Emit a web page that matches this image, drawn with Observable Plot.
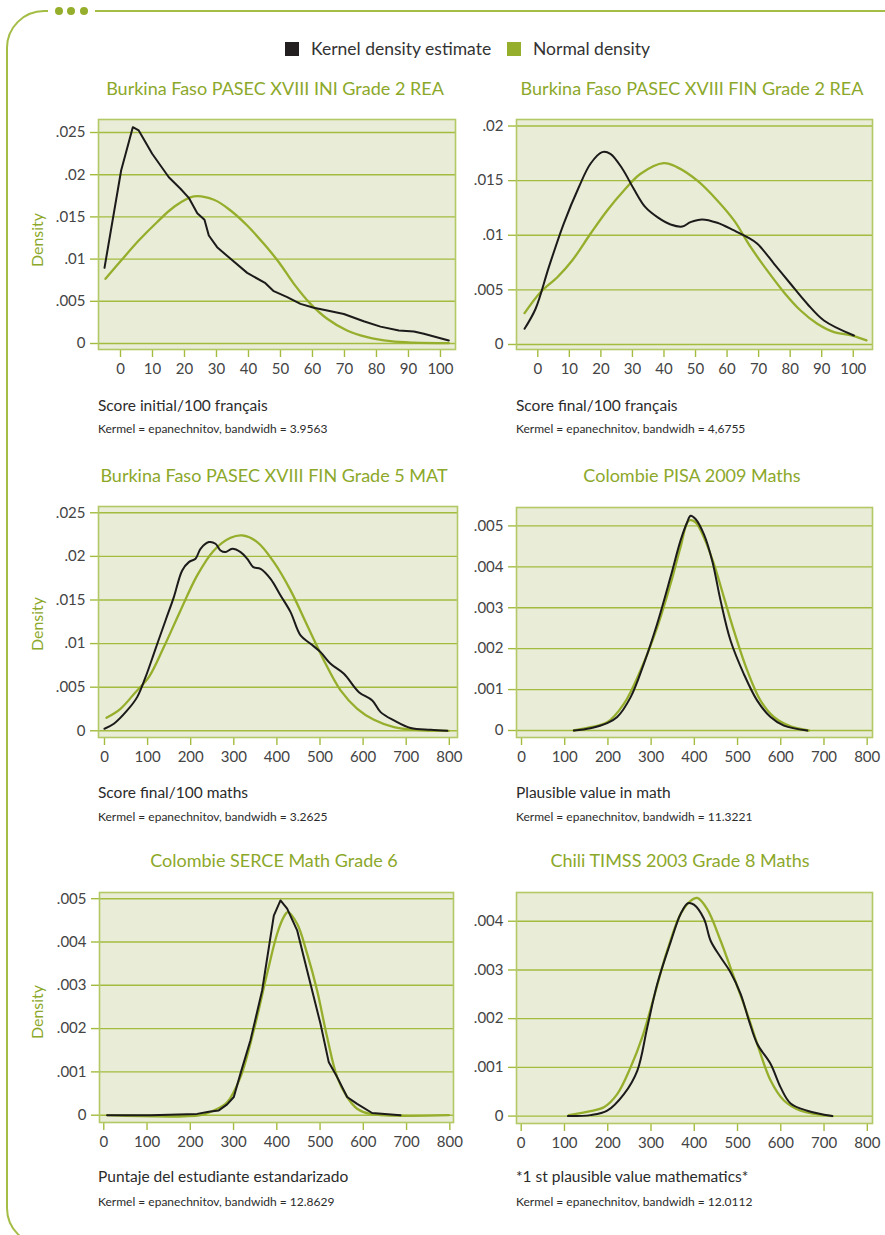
<!DOCTYPE html>
<html><head><meta charset="utf-8">
<script src="https://cdn.jsdelivr.net/npm/d3@7"></script>
<script src="https://cdn.jsdelivr.net/npm/@observablehq/plot@0.6"></script>
<style>
html,body{margin:0;padding:0;background:#fff;}
body{width:885px;height:1235px;position:relative;overflow:hidden;font-family:Lato,"Open Sans",sans-serif;}
.border{position:absolute;left:6px;top:10px;width:915px;height:1236px;border:2px solid #a3bd45;border-radius:38px;box-sizing:border-box;}
.gap{position:absolute;left:48px;top:4px;width:47px;height:14px;background:#fff;}
.dot{position:absolute;top:7px;width:8px;height:8px;border-radius:50%;background:#95ae2c;}
.legend{position:absolute;top:38px;font-size:17.5px;color:#333;white-space:nowrap;}
.sw{position:absolute;top:42px;width:14px;height:14px;}
.title{position:absolute;font-size:18px;color:#8ca82a;white-space:nowrap;transform:translate(-50%,-50%);}
.xlab{position:absolute;font-size:15.5px;color:#2b2b2b;white-space:nowrap;transform:translateY(-50%);}
.sub{position:absolute;font-size:12px;color:#2b2b2b;white-space:nowrap;transform:translateY(-50%);}
.dens{position:absolute;font-size:16px;color:#8ca82a;white-space:nowrap;transform:translate(-50%,-50%) rotate(-90deg);}
</style>
</head><body>
<div class="border"></div>
<div class="gap"></div>
<div class="dot" style="left:55px"></div>
<div class="dot" style="left:67px"></div>
<div class="dot" style="left:80px"></div>
<div class="sw" style="left:285px;background:#231f20"></div>
<div class="legend" style="left:311px">Kernel density estimate</div>
<div class="sw" style="left:507px;background:#95ae2c"></div>
<div class="legend" style="left:533px">Normal density</div>
<script>
// ---------- data ----------
const titles = [
  "Burkina Faso PASEC XVIII INI Grade 2 REA",
  "Burkina Faso PASEC XVIII FIN Grade 2 REA",
  "Burkina Faso PASEC XVIII FIN Grade 5 MAT",
  "Colombie PISA 2009 Maths",
  "Colombie SERCE Math Grade 6",
  "Chili TIMSS 2003 Grade 8 Maths"
];
const xLabels = [
  "Score initial/100 français",
  "Score final/100 français",
  "Score final/100 maths",
  "Plausible value in math",
  "Puntaje del estudiante estandarizado",
  "*1 st plausible value mathematics*"
];
const bandwidths = ["3.9563", "4,6755", "3.2625", "11.3221", "12.8629", "12.0112"];
const legendLabels = ["Kernel density estimate", "Normal density"];
const yLabel = "Density";

const xTicks100 = [0,10,20,30,40,50,60,70,80,90,100];
const xTicks800 = [0,100,200,300,400,500,600,700,800];
const yTicks1 = [0,0.005,0.01,0.015,0.02,0.025];
const yTicks2 = [0,0.005,0.01,0.015,0.02];
const yTicks3 = [0,0.005,0.01,0.015,0.02,0.025];
const yTicks4 = [0,0.001,0.002,0.003,0.004,0.005];
const yTicks5 = [0,0.001,0.002,0.003,0.004,0.005];
const yTicks6 = [0,0.001,0.002,0.003,0.004];

const kde1 = [[-5,0.00897],[0.2,0.0205],[3.85,0.02563],[5.7,0.02524],[9.9,0.02248],[15.1,0.0197],[18.75,0.01833],[21.35,0.01726],[24,0.01544],[26.25,0.01465],[27.6,0.0128],[30.2,0.01141],[34.4,0.01003],[39.6,0.00837],[45.3,0.00714],[47.9,0.0062],[52.1,0.0055],[56.25,0.0047],[60.4,0.00423],[64.6,0.0039],[69.8,0.0035],[76,0.00264],[81.25,0.002],[87,0.00154],[91.7,0.00142],[94.8,0.00115],[102.6,0.00036]];
const norm1 = [[-4.7,0.00767],[0.2,0.00983],[5.7,0.0122],[11.4,0.01437],[16.6,0.01615],[22.9,0.01742],[29.2,0.01703],[34.4,0.01576],[39.6,0.01398],[44.8,0.01181],[49.5,0.00963],[54.2,0.00707],[59.4,0.0047],[64.6,0.00293],[70.8,0.00154],[77.1,0.00075],[84.4,0.00027],[91.7,0.0001],[102.6,0.00004]];

const kde2 = [[-4.2,0.00144],[-0.7,0.00327],[3.5,0.00708],[8.2,0.01105],[13,0.0144],[16.7,0.01655],[20.4,0.01761],[23,0.01746],[26.8,0.01609],[30.4,0.01426],[34.1,0.01257],[37.9,0.01166],[42.1,0.01099],[45.8,0.0108],[48.4,0.0112],[52.1,0.01145],[56.9,0.01114],[62.2,0.01044],[66.4,0.00983],[69.6,0.00922],[74.9,0.00739],[80.1,0.00556],[85.4,0.00373],[90.7,0.0022],[100.2,0.00082]];
const norm2 = [[-4.2,0.00287],[0.86,0.00479],[6.2,0.00616],[10.9,0.00769],[16.7,0.01014],[22,0.01227],[27.3,0.0141],[32.6,0.01563],[39.9,0.0166],[44.1,0.01624],[50.5,0.01502],[56.9,0.01319],[62.2,0.01136],[67.5,0.00891],[72.7,0.00678],[78,0.00479],[83.3,0.00311],[88.6,0.0019],[93.9,0.00113],[99.7,0.00082],[104.2,0.00037]];

const kde3 = [[0,0.00023],[21.7,0.0008],[52.6,0.00233],[75.8,0.00386],[95.2,0.00615],[118.4,0.0094],[141.6,0.01265],[160.9,0.01533],[180.3,0.01839],[195.7,0.01934],[211.2,0.01973],[222.8,0.02087],[242.2,0.02164],[257.6,0.02145],[269.2,0.02068],[280.8,0.02049],[296.3,0.02087],[315.7,0.02049],[331.1,0.01973],[345.1,0.01877],[362.1,0.01858],[385.3,0.01743],[408.5,0.01552],[431.7,0.01361],[454.9,0.01093],[478.1,0.00998],[501.3,0.00902],[524.6,0.00768],[555.5,0.00654],[590.3,0.00443],[621.3,0.00348],[640.6,0.00214],[671.6,0.00119],[710.3,0.00031],[756.7,0.00011],[795.4,0]];
const norm3 = [[4.6,0.00149],[37.1,0.00252],[72,0.00443],[102.9,0.00615],[137.7,0.0096],[176.4,0.0138],[215.1,0.01782],[253.8,0.02068],[292.5,0.02213],[319.5,0.0224],[354.4,0.02164],[393,0.01934],[431.7,0.0161],[470.4,0.01208],[509.1,0.00807],[547.8,0.00463],[586.5,0.00252],[625.1,0.00126],[671.6,0.00042],[718,0.00011],[799.2,0]];

const kde4 = [[121.1,0],[159.7,0.000057],[198.3,0.00018],[221.4,0.00033],[252.3,0.00081],[283.1,0.00163],[314,0.00261],[344.9,0.00375],[368,0.00464],[383.4,0.00509],[391.2,0.00525],[402.7,0.00517],[422,0.0048],[441.3,0.00415],[460.6,0.00318],[483.7,0.0022],[514.6,0.00138],[545.5,0.00073],[576.3,0.00033],[607.2,0.00012],[661.2,0]];
const norm4 = [[121.1,0],[159.7,0.00008],[198.3,0.0002],[236.9,0.00065],[275.4,0.00147],[314,0.00252],[344.9,0.00358],[368,0.00448],[387.3,0.00513],[402.7,0.00509],[422,0.00472],[445.2,0.00407],[468.3,0.00326],[491.5,0.00244],[522.3,0.00147],[553.2,0.00073],[584,0.00033],[622.6,0.0001],[665,0]];

const kde5 = [[7.7,0],[107.9,0],[215.8,0.00003],[242.8,0.00008],[265.9,0.00011],[285.2,0.00025],[300.6,0.00042],[316,0.00096],[339.1,0.00173],[366.1,0.00288],[393.1,0.00461],[408.5,0.00496],[423.9,0.00477],[447,0.00427],[470.1,0.00334],[501,0.00211],[520.2,0.00122],[539.5,0.00088],[562.6,0.00042],[585.7,0.00026],[620.4,0.00005],[686,0]];
const norm5 = [[7.7,0],[223.5,0],[254.3,0.00011],[285.2,0.0003],[316,0.00088],[346.8,0.00196],[377.6,0.00327],[400.8,0.00419],[416.2,0.00458],[425.4,0.00469],[447,0.00442],[470.1,0.00373],[493.2,0.00288],[516.4,0.0018],[539.5,0.00088],[562.6,0.00042],[585.7,0.00015],[616.6,0.00003],[797.7,0]];

const kde6 = [[107.9,0],[160.3,0.00002],[198.8,0.00011],[237.4,0.00045],[268.2,0.00093],[291.3,0.00182],[314.4,0.00271],[345.3,0.00357],[368.4,0.00415],[385.4,0.00437],[399.2,0.00434],[422.4,0.00405],[437.8,0.0036],[460.9,0.00326],[484,0.00295],[507.1,0.00251],[526.4,0.00196],[545.7,0.00148],[576.5,0.00107],[599.6,0.00059],[622.7,0.00026],[661.3,0.00011],[719.1,0]];
const norm6 = [[110.2,0.00002],[160.3,0.0001],[191.1,0.00018],[221.9,0.00045],[252.8,0.001],[279.8,0.00162],[306.7,0.00244],[337.6,0.0034],[368.4,0.00415],[391.5,0.00442],[406.9,0.00448],[430,0.00425],[460.9,0.0036],[491.7,0.00285],[522.5,0.0021],[545.7,0.00148],[576.5,0.00073],[607.3,0.00032],[645.8,0.00011],[719.1,0]];

// ---------- layout / styling ----------
const GREEN = "#95ae2c", GRID = "#a3bc40", BG = "#e9ecd6", FRAME = "#b3c965", INK = "#1c1a1a", TXT = "#444";
const panels = [
  {fl:98, ft:119, fr:455, fb:349, xd:[-6.875,104.7], yd:[-0.00071,0.02654], xt:xTicks100, yt:yTicks1, kde:kde1, norm:norm1, kc:"linear", tx:275, ty:88, lx:98, ly:405, sy:428, dens:240},
  {fl:516, ft:119, fr:872, fb:349, xd:[-6.75,106.1], yd:[-0.00046,0.0206], xt:xTicks100, yt:yTicks2, kde:kde2, norm:norm2, kc:"catmull-rom", tx:692, ty:88, lx:516, ly:405, sy:428},
  {fl:98, ft:506, fr:457, fb:737, xd:[-13.9,819], yd:[-0.00077,0.02572], xt:xTicks800, yt:yTicks3, kde:kde3, norm:norm3, kc:"catmull-rom", tx:274, ty:475, lx:98, ly:792, sy:816, dens:624},
  {fl:516, ft:507, fr:872, fb:737, xd:[-11.6,812.3], yd:[-0.000171,0.00545], xt:xTicks800, yt:yTicks4, kde:kde4, norm:norm4, kc:"catmull-rom", tx:692, ty:475, lx:516, ly:792, sy:816},
  {fl:99, ft:892, fr:453, fb:1122, xd:[-9.9,808.5], yd:[-0.000169,0.005143], xt:xTicks800, yt:yTicks5, kde:kde5, norm:norm5, kc:"linear", tx:274, ty:860, lx:98, ly:1176, sy:1201, dens:1012},
  {fl:516, ft:892, fr:872, fb:1123, xd:[-10.9,812], yd:[-0.000152,0.00459], xt:xTicks800, yt:yTicks6, kde:kde6, norm:norm6, kc:"catmull-rom", tx:680, ty:860, lx:516, ly:1176, sy:1201}
];
const ML = 62, MR = 8, MT = 8, MB = 34;
const fmt = d => d === 0 ? "0" : String(d).replace(/^0/, "");

function addDiv(cls, text, css) {
  const el = document.createElement("div");
  el.className = cls; el.textContent = text;
  Object.assign(el.style, css);
  document.body.appendChild(el);
}

panels.forEach((p, i) => {
  const chart = Plot.plot({
    width: p.fr - p.fl + ML + MR,
    height: p.fb - p.ft + MT + MB,
    marginLeft: ML, marginRight: MR, marginTop: MT, marginBottom: MB,
    x: {domain: p.xd},
    y: {domain: p.yd},
    style: {fontFamily: "Lato, 'Open Sans', sans-serif", fontSize: "15px", color: TXT, background: "transparent", overflow: "visible"},
    marks: [
      Plot.frame({fill: BG, stroke: null}),
      Plot.ruleY(p.yt, {stroke: GRID, strokeWidth: 1.4}),
      Plot.axisY({ticks: p.yt, tickFormat: fmt, tickSize: 8, tickPadding: 5, stroke: GRID, strokeWidth: 1.4, fill: TXT, label: null, fontSize: 15}),
      Plot.axisX({ticks: p.xt, tickFormat: d => String(d), tickSize: 8, tickPadding: 6, stroke: GRID, strokeWidth: 1.4, fill: TXT, label: null, fontSize: 15}),
      Plot.line(p.norm, {curve: "catmull-rom", stroke: GREEN, strokeWidth: 2.3}),
      Plot.line(p.kde, {curve: p.kc, stroke: INK, strokeWidth: 2}),
      Plot.frame({stroke: FRAME, strokeWidth: 1.6})
    ]
  });
  chart.style.position = "absolute";
  chart.style.left = (p.fl - ML) + "px";
  chart.style.top = (p.ft - MT) + "px";
  document.body.appendChild(chart);

  addDiv("title", titles[i], {left: p.tx + "px", top: p.ty + "px"});
  addDiv("xlab", xLabels[i], {left: p.lx + "px", top: p.ly + "px"});
  addDiv("sub", "Kermel = epanechnitov, bandwidh = " + bandwidths[i], {left: p.lx + "px", top: p.sy + "px"});
  if (p.dens) addDiv("dens", yLabel, {left: "36px", top: p.dens + "px"});
});
</script>
</body></html>
